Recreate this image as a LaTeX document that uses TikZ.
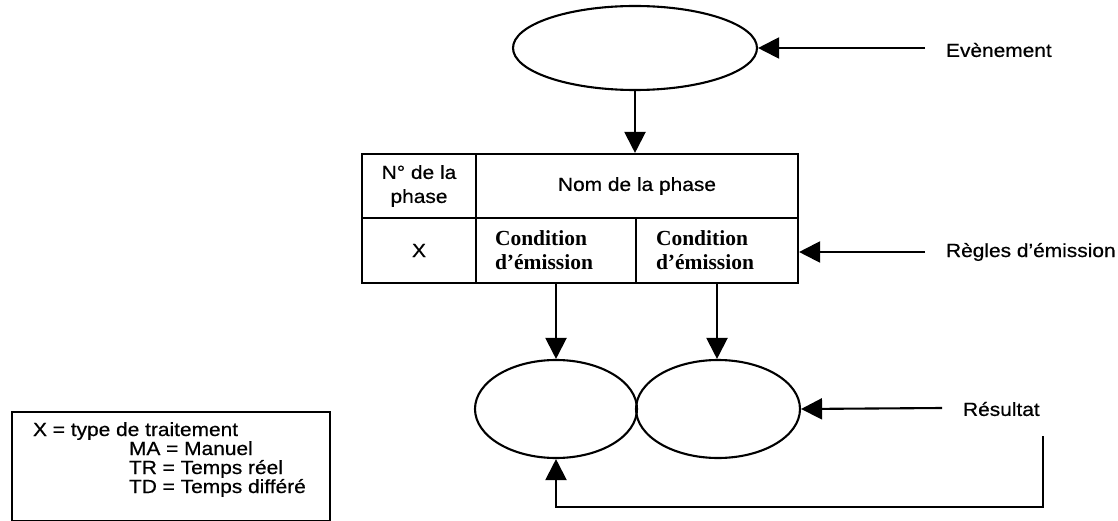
\documentclass[tikz,border=0pt]{standalone}
\usepackage{fontspec}
\setmainfont{Liberation Sans}[FakeStretch=1.1,FakeBold=0.6]
\newfontfamily\condfont{Liberation Serif}
\usetikzlibrary{arrows.meta,shapes.geometric}

\begin{document}
\begin{tikzpicture}[x=1pt,y=-1pt,
  line width=2.1pt,
  every node/.style={inner sep=0pt},
  lab/.style={font=\fontsize{19}{24}\selectfont},
  blob/.style={draw,ellipse,inner sep=0pt},
  cell/.style={draw,rectangle,inner sep=0pt,font=\fontsize{19}{24}\selectfont},
  condcell/.style={draw,rectangle,minimum width=160pt,minimum height=65pt,
    text width=122pt,align=left,inner xsep=19pt,inner ysep=0pt,
    font=\condfont\bfseries\fontsize{21.5}{24}\selectfont},
  flow/.style={-{Triangle[length=21pt,width=21pt]}}]

\useasboundingbox (0,0) rectangle (1118,521);

% event ellipse
\node[blob,minimum width=244pt,minimum height=84pt] (event) at (635,48) {};

% phase table
\node[cell,minimum width=114pt,minimum height=64pt,align=center] (numcell) at (419,186)
  {N° de la\\phase};
\node[cell,minimum width=322pt,minimum height=64pt] (namecell) at (637,186)
  {Nom de la phase};
\node[cell,minimum width=114pt,minimum height=65pt] (xcell) at (419,250.5) {X};
\node[condcell] (cond1) at (556,250.5) {Condition\\d’émission};
\node[condcell,minimum width=162pt] (cond2) at (717,250.5) {Condition\\d’émission};

% result ellipses
\node[blob,minimum width=162pt,minimum height=98pt] (res1) at (556,409) {};
\node[blob,minimum width=164pt,minimum height=98pt] (res2) at (718,409) {};

% side labels
\node[lab,anchor=west] (evlab) at (945,50) {Evènement};
\node[lab,anchor=west] (rglab) at (945,252) {Règles d’émission};
\node[lab,anchor=west] (relab) at (962,409) {Résultat};

\coordinate (evsrc) at (925,48);
\coordinate (rgsrc) at (925,252);
\coordinate (resrc) at (942,408);
\coordinate (fbtop) at (1043,436);
\coordinate (fbcorner) at (1043,507);

% connectors
\draw[flow] (evsrc) -- (event.east);
\draw[flow] (event.south) -- (event.south |- namecell.north);
\draw[flow] (cond1.south) -- (res1.north);
\draw[flow] (cond2.south) -- (cond2.south |- res2.north);
\draw[flow] (rgsrc) -- (rgsrc -| cond2.east);
\draw[flow] (resrc) -- (res2.east);
\draw[flow] (fbtop) -- (fbcorner) -| (res1.south);

% legend
\node[draw,rectangle,minimum width=318pt,minimum height=109pt] (legend) at (171,466.5) {};
\node[lab,anchor=base west] (leg1) at (32,436) {X = type de traitement};
\node[lab,anchor=base west] (leg2) at (128,455) {MA = Manuel};
\node[lab,anchor=base west] (leg3) at (128,474) {TR = Temps réel};
\node[lab,anchor=base west] (leg4) at (128,493) {TD = Temps différé};

\end{tikzpicture}
\end{document}
